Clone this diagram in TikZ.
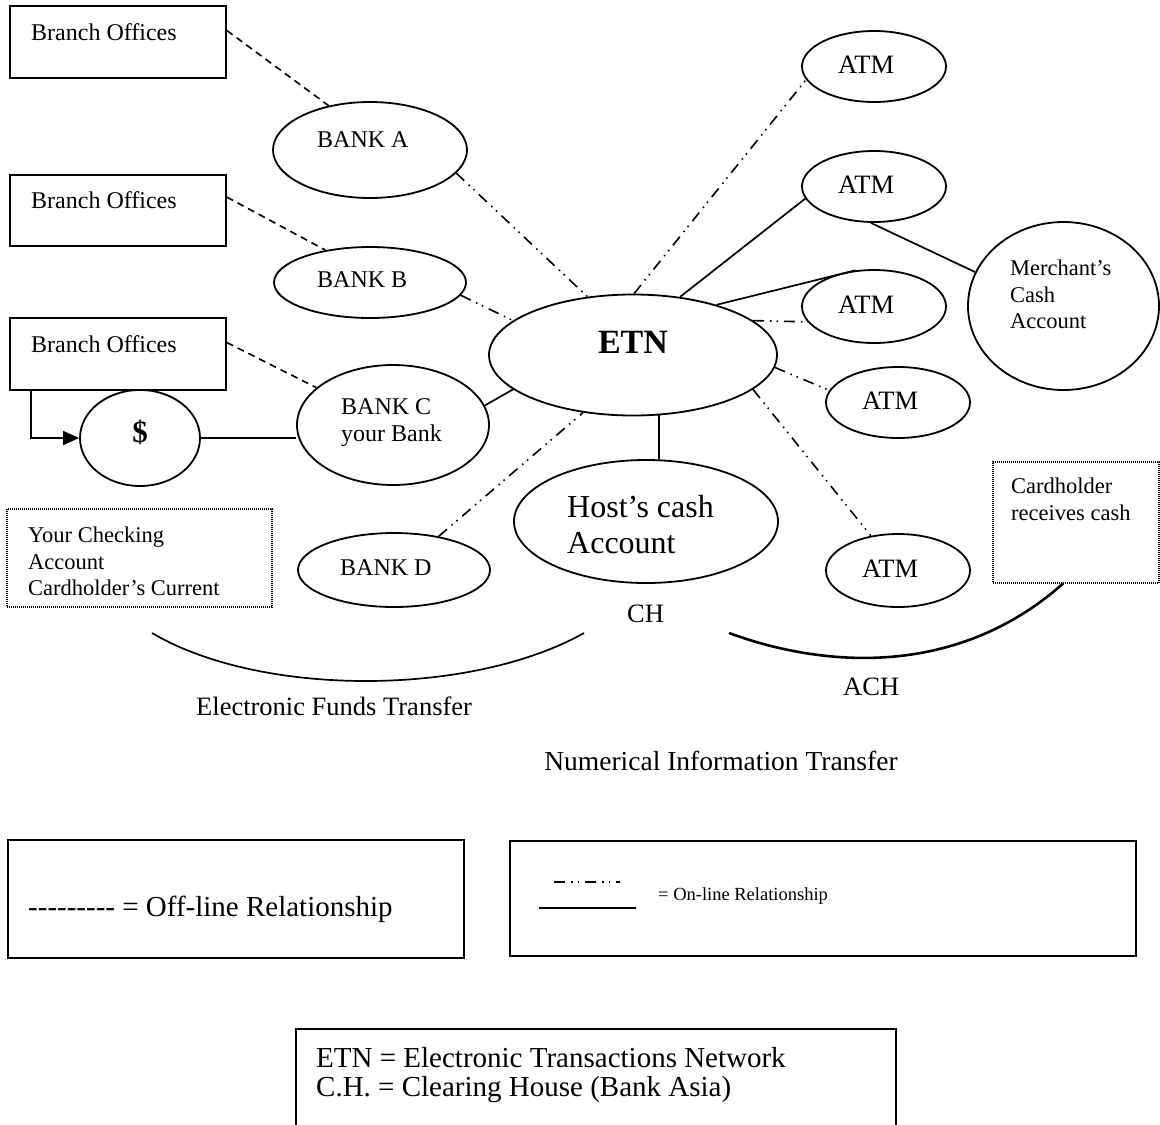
\documentclass[tikz,border=0pt]{standalone}
\usepackage{fontspec}
\setmainfont{Liberation Serif}
\usetikzlibrary{shapes.geometric,arrows.meta}

\newcommand{\bankfont}{\fontsize{24}{27}\selectfont}
\newcommand{\atmfont}{\fontsize{26.5}{28}\selectfont}
\newcommand{\notefont}{\fontsize{22.5}{26.3}\selectfont}
\newcommand{\hostfont}{\fontsize{32}{36}\selectfont}
\newcommand{\keyfont}{\fontsize{29}{29}\selectfont}

\tikzset{
  oval/.style={draw, ellipse, line width=1.8pt, inner sep=0pt},
  office/.style={draw, line width=1.8pt, minimum width=216, minimum height=72, inner sep=0pt},
  notebox/.style={draw, line width=1.2pt, dash pattern=on 1pt off 1pt, inner sep=0pt},
  keybox/.style={draw, line width=1.8pt, inner sep=0pt},
  online/.style={line width=1.6pt, dash pattern=on 11pt off 6pt on 1.5pt off 5pt on 1.5pt off 6pt},
  offline/.style={line width=1.6pt, dash pattern=on 7pt off 5pt},
  wire/.style={line width=1.7pt},
  txt/.style={inner sep=0pt, anchor=base west},
  para/.style={inner sep=0pt, anchor=north west, align=left},
}

\begin{document}
\begin{tikzpicture}[x=1pt, y=-1pt]
  \useasboundingbox (0,0) rectangle (1160,1125);

  % branch offices
  \node[office] (branch1) at (118,42) {};
  \node[office, minimum height=71] (branch2) at (118,210.5) {};
  \node[office] (branch3) at (118,354) {};
  \node[txt, font=\bankfont] (branch1txt) at (31,40) {Branch Offices};
  \node[txt, font=\bankfont] (branch2txt) at (31,208) {Branch Offices};
  \node[txt, font=\bankfont] (branch3txt) at (31,352) {Branch Offices};

  % banks
  \node[oval, minimum width=194, minimum height=96] (bankA) at (370,150) {};
  \node[oval, minimum width=192, minimum height=71] (bankB) at (370,282.5) {};
  \node[oval, minimum width=192, minimum height=120] (bankC) at (393,425) {};
  \node[oval, minimum width=192, minimum height=74] (bankD) at (394,570) {};
  \node[txt, font=\bankfont] (bankAtxt) at (317,147) {BANK A};
  \node[txt, font=\bankfont] (bankBtxt) at (317,287) {BANK B};
  \node[para, font=\bankfont] (bankCtxt) at (341,398) {BANK C\\your Bank};
  \node[txt, font=\bankfont] (bankDtxt) at (340,575) {BANK D};

  \node[oval, minimum width=120, minimum height=96] (dollar) at (140,438) {};
  \node[inner sep=0pt, anchor=base, font=\fontsize{31}{32}\selectfont\bfseries] (dollartxt) at (140,442) {\$};

  % network and host
  \node[oval, minimum width=288, minimum height=121] (etn) at (633,355) {};
  \node[inner sep=0pt, anchor=base, font=\fontsize{34}{36}\selectfont\bfseries] (etntxt) at (633,353) {ETN};
  \node[oval, minimum width=264, minimum height=123] (host) at (646,521.5) {};
  \node[para, font=\hostfont] (hosttxt) at (567,495) {Host’s cash\\Account};

  % atms
  \node[oval, minimum width=144, minimum height=71] (atm1) at (874,66.5) {};
  \node[oval, minimum width=144, minimum height=71] (atm2) at (874,186.5) {};
  \node[oval, minimum width=144, minimum height=73] (atm3) at (874,306.5) {};
  \node[oval, minimum width=144, minimum height=71] (atm4) at (898,402.5) {};
  \node[oval, minimum width=144, minimum height=73] (atm5) at (898,570.5) {};
  \node[txt, font=\atmfont] (atm1txt) at (838,73) {ATM};
  \node[txt, font=\atmfont] (atm2txt) at (838,193) {ATM};
  \node[txt, font=\atmfont] (atm3txt) at (838,313) {ATM};
  \node[txt, font=\atmfont] (atm4txt) at (862,409) {ATM};
  \node[txt, font=\atmfont] (atm5txt) at (862,577) {ATM};

  \node[oval, minimum width=191, minimum height=168] (merchant) at (1063.5,306) {};
  \node[para, font=\notefont] (merchanttxt) at (1010,260) {Merchant’s\\Cash\\Account};

  % dotted notes
  \node[notebox, minimum width=265, minimum height=98] (checking) at (139.5,558) {};
  \node[para, font=\notefont] (checkingtxt) at (28,527) {Your Checking\\Account\\Cardholder’s Current};
  \node[notebox, minimum width=166, minimum height=121] (card) at (1076,522.5) {};
  \node[para, font=\notefont] (cardtxt) at (1011,478) {Cardholder\\receives cash};

  % off-line links
  \draw[offline] (branch1.6) -- (bankA.133);
  \draw[offline] (branch2.7) -- (bankB.144);
  \draw[offline] (branch3.6) -- (bankC.154);

  % on-line links
  \draw[online] (bankA.-15) -- (etn.128);
  \draw[online] (bankB.-8) -- (etn.164);
  \draw[wire] (bankC.12) -- (etn.196);
  \draw[online] (bankD.37) -- (etn.229);
  \draw[online] (etn.89) -- (atm1.191);
  \draw[wire] (etn.51) -- (atm2.190);
  \draw[wire] (etn.31) -- (atm3.117);
  \draw[online] (etn.16) -- (atm3.193);
  \draw[online] (etn.-5) -- (atm4.170);
  \draw[online] (etn.-16) -- (atm5.128);
  \draw[wire] (etn.-67) -- (etn.-67 |- host.north);
  \draw[wire] (atm2.265) -- (merchant.159);
  \draw[wire] (dollar.east) -- (dollar.east -| bankC.west);
  \draw[wire, -{Triangle[length=16pt, width=14pt]}] ([xshift=22pt]branch3.south west) |- (dollar.west);

  % transfers
  \node[txt, font=\atmfont] (ch) at (627,622) {CH};
  \draw[wire] (152,633) .. controls (260,697) and (470,697) .. (584,633);
  \draw[line width=2.6pt] (729,633) .. controls (830,670) and (960,675) .. ([xshift=-13pt]card.south);
  \node[txt, font=\atmfont] (ach) at (843,695) {ACH};
  \node[txt, font=\atmfont] (eft) at (196,715) {Electronic Funds Transfer};
  \node[inner sep=0pt, anchor=base, font=\fontsize{27.5}{29}\selectfont] (nit) at (721,770) {Numerical Information Transfer};

  % key
  \node[keybox, minimum width=456, minimum height=118] (offkey) at (236,899) {};
  \node[txt, font=\keyfont] (offkeytxt) at (28,916) {-{}-{}-{}-{}-{}-{}-{}-{}- = Off-line Relationship};
  \node[keybox, minimum width=626, minimum height=115] (onkey) at (823,898.5) {};
  \draw[online, line width=1.8pt] (554,882) -- (620,882);
  \draw[line width=1.8pt] (539,908) -- (636,908);
  \node[txt, font=\fontsize{18.5}{20}\selectfont] (onkeytxt) at (658,900) {= On-line Relationship};

  \draw[line width=1.8pt] (296,1140) -- (296,1029) -- (896,1029) -- (896,1140);
  \node[para, font=\keyfont] (defs) at (316,1047) {ETN = Electronic Transactions Network\\C.H. = Clearing House (Bank Asia)};
\end{tikzpicture}
\end{document}
